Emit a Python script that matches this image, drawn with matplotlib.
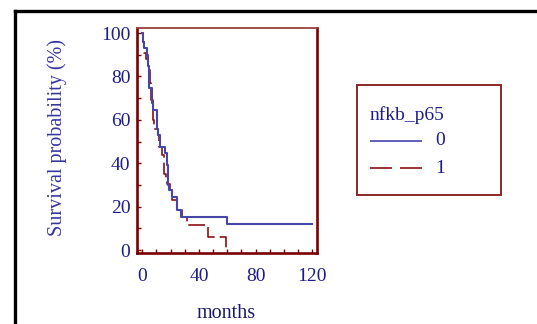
import matplotlib
matplotlib.use("Agg")
import matplotlib.pyplot as plt
from matplotlib.ticker import MultipleLocator, FixedLocator
from matplotlib.lines import Line2D
from matplotlib.patches import Rectangle

# ---- data ----
t0 = [0, 0.5, 1.2, 3.1, 4.3, 5.0, 6.6, 7.8, 10.1, 11.3, 12.5, 16.0, 17.2, 18.0,
      19.1, 20.8, 24.3, 27.1, 59.5, 120]
s0 = [100, 96, 93, 90, 85, 74.5, 67.6, 64.5, 56, 53, 47.6, 44.6, 39.2, 30,
      27.7, 24.6, 18.4, 15.1, 11.8, 11.8]
t1 = [0, 0.8, 1.5, 2.5, 4.3, 5.5, 6.5, 7.3, 8.3, 11.0, 11.8, 14.0, 15.0, 16.7,
      17.7, 19.5, 21.0, 24.3, 27.8, 31.8, 46.6, 58.8]
s1 = [100, 96, 91, 88, 83, 77, 69, 60, 56, 53, 47.6, 44, 35, 33,
      30.5, 27.7, 23, 18.4, 15.1, 11.6, 6.1, 0]
group_labels = ["0", "1"]
legend_title = "nfkb_p65"
xticks = [0, 40, 80, 120]
yticks = [0, 20, 40, 60, 80, 100]
xlabel = "months"
ylabel = "Survival probability (%)"

W, H = 537, 324
plt.rcParams['font.family'] = ['Liberation Serif', 'DejaVu Serif']
fig = plt.figure(figsize=(W / 100, H / 100), dpi=100)
fig.patch.set_facecolor('white')

def fx(px):
    return px / W

def fy(py):
    return 1 - py / H

L, R, T, B = 137.3, 317.3, 28.3, 252.7
ax = fig.add_axes([fx(L), fy(B), (R - L) / W, (B - T) / H])

red = '#8b1010'
blue = '#4646aa'
spine_dark = '#7a0000'
navy = '#1c1c8a'
FS = 14

ax.step(t1, s1, where='post', color=red, lw=1.2, dashes=(10, 3), zorder=2)
ax.step(t0, s0, where='post', color=blue, lw=1.5, zorder=3)

ax.set_xlim(-3.5, 123.5)
ax.set_ylim(-1.2, 102.2)
ax.xaxis.set_major_locator(FixedLocator(xticks))
ax.yaxis.set_major_locator(FixedLocator(yticks))
ax.xaxis.set_minor_locator(MultipleLocator(10))
ax.yaxis.set_minor_locator(MultipleLocator(10))
ax.tick_params(axis='both', which='both', direction='in', length=3, width=1,
               color=spine_dark, labelcolor=navy, labelsize=FS)
ax.tick_params(axis='x', which='both', pad=11)
ax.tick_params(axis='y', which='both', pad=5)

for side, sp in ax.spines.items():
    sp.set_color(spine_dark)
    sp.set_linewidth(1.9)
ax.spines['top'].set_color('#9a4040')
ax.spines['top'].set_linewidth(1.3)

fig.text(fx(56.7), fy(138), ylabel, rotation=90, ha='center', va='center',
         color='#3535a0', fontsize=14.5)
fig.text(fx(226), fy(318.3), xlabel, ha='center', va='baseline',
         color='#1a1a66', fontsize=14.5)

# legend box
lx0, ly0, lx1, ly1 = 357.3, 85, 500.7, 195
fig.add_artist(Rectangle((fx(lx0), fy(ly1)), (lx1 - lx0) / W, (ly1 - ly0) / H,
                         transform=fig.transFigure, fill=False,
                         edgecolor='#8b2a2a', lw=1.4))
fig.text(fx(370), fy(115), legend_title, ha='left', va='center', color=navy, fontsize=FS)
rows = [140.7, 168.3]
styles = [dict(color=blue, lw=1.2), dict(color=red, lw=1.2, dashes=(13.2, 4.8))]
for yy, lab, st in zip(rows, group_labels, styles):
    fig.add_artist(Line2D([fx(370), fx(422)], [fy(yy), fy(yy)],
                          transform=fig.transFigure, solid_capstyle='butt',
                          dash_capstyle='butt', **st))
    fig.text(fx(435), fy(yy), lab, ha='left', va='center', color=navy, fontsize=FS)

# outer black frame (partially visible)
fig.add_artist(Line2D([fx(14.9), 1], [fy(11), fy(11)], color='black', lw=2.4,
                      transform=fig.transFigure, solid_capstyle='projecting'))
fig.add_artist(Line2D([fx(14.9), fx(14.9)], [fy(11), 0], color='black', lw=2.4,
                      transform=fig.transFigure, solid_capstyle='projecting'))

fig.savefig('out.png', dpi=100)
